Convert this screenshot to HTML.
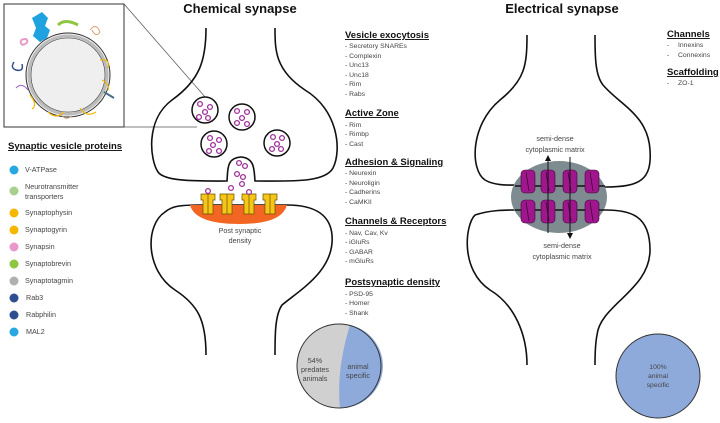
<!DOCTYPE html>
<html><head><meta charset="utf-8"><style>
body{margin:0;background:#fff;}
svg{display:block;font-family:"Liberation Sans",sans-serif;}
.h{font-weight:bold;font-size:9.5px;text-decoration:underline;fill:#111;}
.i{font-size:6.8px;fill:#444;}
.l{font-size:7.2px;fill:#444;}
.o{fill:none;stroke:#111;stroke-width:1.6;}
</style></head><body>
<svg width="720" height="423" viewBox="0 0 720 423">
<text x="240" y="13" text-anchor="middle" font-weight="bold" font-size="13" fill="#111">Chemical synapse</text>
<text x="562" y="13" text-anchor="middle" font-weight="bold" font-size="13" fill="#111">Electrical synapse</text>

<!-- inset box -->
<rect x="4" y="4" width="120" height="123" fill="#fff" stroke="#333" stroke-width="1"/>
<line x1="124" y1="4" x2="206" y2="98" stroke="#555" stroke-width="0.7"/>
<line x1="124" y1="127" x2="197" y2="127" stroke="#555" stroke-width="0.7"/>
<circle cx="68" cy="75" r="42" fill="#f0f0f0" stroke="#333" stroke-width="1"/>
<circle cx="68" cy="75" r="39" fill="none" stroke="#bbb" stroke-width="3"/>
<circle cx="68" cy="75" r="37" fill="#efefef" stroke="#333" stroke-width="0.6"/>
<path d="M32 18 L42 12 L48 18 L45 26 L50 30 L47 38 L40 42 L33 36 L36 28 Z" fill="#1fa3e0"/>
<path d="M58 25 Q65 18 78 25" fill="none" stroke="#8dc63f" stroke-width="3"/>
<path d="M90 30 q6 -8 10 2 q-4 6 -8 -2" fill="none" stroke="#d9a070" stroke-width="1"/>
<path d="M14 62 q-4 6 2 8 q8 2 6 -6" fill="none" stroke="#2e4f8f" stroke-width="1.5"/>
<path d="M22 45 q-4 -6 4 -6 q4 4 -4 6" fill="none" stroke="#e899c8" stroke-width="2"/>
<path d="M100 60 q10 -2 8 8 M102 80 q8 4 6 10" fill="none" stroke="#f5b800" stroke-width="1.2"/>
<path d="M30 95 q8 10 2 14 M48 112 q8 8 16 0 M80 108 q6 10 16 4" fill="none" stroke="#f5b800" stroke-width="1.2"/>
<path d="M60 112 q4 10 12 4" fill="none" stroke="#c9a880" stroke-width="1"/>
<path d="M104 92 l10 6" stroke="#4a6f8a" stroke-width="2"/>
<path d="M16 88 q6 -6 12 2" fill="none" stroke="#a060c0" stroke-width="1"/>

<!-- legend -->
<text x="8" y="149" class="h" font-size="10">Synaptic vesicle proteins</text>
<g class="l">
<circle cx="14" cy="170" r="4.5" fill="#29a8e0"/><text x="25" y="172">V-ATPase</text>
<circle cx="14" cy="191" r="4.5" fill="#a8d08d"/><text x="25" y="189">Neurotransmitter</text><text x="25" y="199">transporters</text>
<circle cx="14" cy="213" r="4.5" fill="#f5b800"/><text x="25" y="215">Synaptophysin</text>
<circle cx="14" cy="230" r="4.5" fill="#f5b800"/><text x="25" y="232">Synaptogyrin</text>
<circle cx="14" cy="247" r="4.5" fill="#e899c8"/><text x="25" y="249">Synapsin</text>
<circle cx="14" cy="264" r="4.5" fill="#8dc63f"/><text x="25" y="266">Synaptobrevin</text>
<circle cx="14" cy="281" r="4.5" fill="#b0b0b0"/><text x="25" y="283">Synaptotagmin</text>
<circle cx="14" cy="298" r="4.5" fill="#2e4f8f"/><text x="26" y="300">Rab3</text>
<circle cx="14" cy="315" r="4.5" fill="#2e4f8f"/><text x="26" y="317">Rabphilin</text>
<circle cx="14" cy="332" r="4.5" fill="#29a8e0"/><text x="26" y="334">MAL2</text>
</g>

<!-- chemical synapse -->
<path class="o" d="M206 28 C206 60 200 80 172 100 C145 120 150 160 158 172 C165 182 200 181 227 181 C228 170 226 158 241 157 C255 158 254 170 255 181 C290 181 325 183 333 168 C342 150 338 110 305 90 C275 70 275 50 275 28"/>
<path class="o" d="M206 355 C206 320 198 305 175 290 C145 270 145 225 165 212 C172 206 180 205 200 205 L287 205 C310 205 330 212 332 235 C335 270 300 290 282 305 C275 315 275 335 275 355"/>
<path d="M190 205 L287 205 Q282 224 240 224 Q195 224 190 205 Z" fill="#f26522"/>
<g fill="#f5c518" stroke="#6b5000" stroke-width="0.7">
<path d="M201 194 h14 v6 h-2 v14 h-10 v-14 h-2 z"/><line x1="208" y1="194" x2="208" y2="214"/>
<path d="M220 194 h14 v6 h-2 v14 h-10 v-14 h-2 z"/><line x1="227" y1="194" x2="227" y2="214"/>
<path d="M242 194 h14 v6 h-2 v14 h-10 v-14 h-2 z"/><line x1="249" y1="194" x2="249" y2="214"/>
<path d="M263 194 h14 v6 h-2 v14 h-10 v-14 h-2 z"/><line x1="270" y1="194" x2="270" y2="214"/>
</g>
<text x="240" y="233" text-anchor="middle" class="l" fill="#666">Post synaptic</text>
<text x="240" y="243" text-anchor="middle" class="l" fill="#666">density</text>
<g fill="#fff" stroke="#111" stroke-width="1.5">
<circle cx="205" cy="110" r="13"/><circle cx="242" cy="117" r="13"/><circle cx="214" cy="144" r="13"/><circle cx="277" cy="143" r="13"/>
</g>
<g fill="none" stroke="#a0309a" stroke-width="1.3">
<circle cx="200" cy="104" r="2.4"/><circle cx="210" cy="107" r="2.4"/><circle cx="205" cy="112" r="2.4"/><circle cx="199" cy="117" r="2.4"/><circle cx="208" cy="118" r="2.4"/>
<circle cx="237" cy="111" r="2.4"/><circle cx="247" cy="112" r="2.4"/><circle cx="242" cy="118" r="2.4"/><circle cx="237" cy="123" r="2.4"/><circle cx="247" cy="124" r="2.4"/>
<circle cx="210" cy="138" r="2.4"/><circle cx="219" cy="140" r="2.4"/><circle cx="213" cy="145" r="2.4"/><circle cx="209" cy="151" r="2.4"/><circle cx="219" cy="151" r="2.4"/>
<circle cx="273" cy="137" r="2.4"/><circle cx="282" cy="138" r="2.4"/><circle cx="277" cy="144" r="2.4"/><circle cx="272" cy="149" r="2.4"/><circle cx="281" cy="149" r="2.4"/>
<circle cx="239" cy="163" r="2.4"/><circle cx="245" cy="166" r="2.4"/><circle cx="237" cy="174" r="2.4"/><circle cx="243" cy="177" r="2.4"/><circle cx="242" cy="184" r="2.4"/><circle cx="231" cy="188" r="2.4"/><circle cx="208" cy="191" r="2.4"/><circle cx="249" cy="192" r="2.4"/>
</g>

<!-- chem text -->
<text x="345" y="38" class="h">Vesicle exocytosis</text>
<g class="i"><text x="345" y="48">- Secretory SNAREs</text><text x="345" y="58">- Complexin</text><text x="345" y="67">- Unc13</text><text x="345" y="77">- Unc18</text><text x="345" y="86">- Rim</text><text x="345" y="96">- Rabs</text></g>
<text x="345" y="116" class="h">Active Zone</text>
<g class="i"><text x="345" y="127">- Rim</text><text x="345" y="136">- Rimbp</text><text x="345" y="146">- Cast</text></g>
<text x="345" y="165" class="h">Adhesion &amp; Signaling</text>
<g class="i"><text x="345" y="175">- Neurexin</text><text x="345" y="185">- Neuroligin</text><text x="345" y="194">- Cadherins</text><text x="345" y="204">- CaMKII</text></g>
<text x="345" y="224" class="h">Channels &amp; Receptors</text>
<g class="i"><text x="345" y="235">- Nav, Cav, Kv</text><text x="345" y="244">- iGluRs</text><text x="345" y="254">- GABAR</text><text x="345" y="263">- mGluRs</text></g>
<text x="345" y="285" class="h">Postsynaptic density</text>
<g class="i"><text x="345" y="296">- PSD-95</text><text x="345" y="305">- Homer</text><text x="345" y="315">- Shank</text></g>

<circle cx="339" cy="366" r="42" fill="#d0d0d0"/>
<path d="M350 325 A42 42 0 0 1 340 408 Q336 370 350 325 Z" fill="#8eaadb"/>
<circle cx="339" cy="366" r="42" fill="none" stroke="#333" stroke-width="1"/>
<g class="l" text-anchor="middle" fill="#333"><text x="315" y="363">54%</text><text x="315" y="372">predates</text><text x="315" y="381">animals</text><text x="358" y="369">animal</text><text x="358" y="378">specific</text></g>

<!-- electrical synapse -->
<path class="o" d="M527 35 C527 65 525 80 500 100 C470 125 470 170 485 180 C495 186 510 185 515 185 M605 187 C640 187 652 180 650 150 C648 115 620 105 603 85 C595 75 595 55 595 35"/>
<path class="o" d="M475 215 C490 210 505 210 515 210 M605 210 C630 210 650 215 650 250 C650 290 600 305 597 335 C595 345 595 355 595 365 M527 365 C527 335 515 305 490 290 C460 270 465 225 475 215"/>
<ellipse cx="559" cy="197" rx="48" ry="36" fill="#7e8c92"/>
<path d="M515 186 L605 186 M515 210 L605 210" stroke="#111" stroke-width="1.6" fill="none"/>
<g fill="#a0168c" stroke="#3a0a35" stroke-width="0.6">
<rect x="521" y="170" width="14" height="23" rx="4"/><rect x="541" y="170" width="14" height="23" rx="4"/><rect x="563" y="170" width="14" height="23" rx="4"/><rect x="585" y="170" width="14" height="23" rx="4"/>
<rect x="521" y="200" width="14" height="23" rx="4"/><rect x="541" y="200" width="14" height="23" rx="4"/><rect x="563" y="200" width="14" height="23" rx="4"/><rect x="585" y="200" width="14" height="23" rx="4"/>
</g>
<g stroke="#3a0a35" stroke-width="0.8"><path d="M526 172 l3 19 M546 172 l3 19 M568 172 l3 19 M590 172 l3 19 M526 202 l3 19 M546 202 l3 19 M568 202 l3 19 M590 202 l3 19"/></g>
<line x1="548" y1="233" x2="548" y2="160" stroke="#111" stroke-width="1"/><path d="M545 161 L548 155 L551 161 Z" fill="#111"/>
<line x1="570" y1="157" x2="570" y2="234" stroke="#111" stroke-width="1"/><path d="M567 233 L570 239 L573 233 Z" fill="#111"/>
<g class="l" text-anchor="middle" fill="#666"><text x="555" y="141">semi-dense</text><text x="555" y="152">cytoplasmic matrix</text><text x="562" y="248">semi-dense</text><text x="562" y="259">cytoplasmic matrix</text></g>
<text x="667" y="37" class="h">Channels</text>
<g class="i"><text x="667" y="47">-</text><text x="678" y="47">Innexins</text><text x="667" y="57">-</text><text x="678" y="57">Connexins</text></g>
<text x="667" y="75" class="h">Scaffolding</text>
<g class="i"><text x="667" y="85">-</text><text x="678" y="85">ZO-1</text></g>
<circle cx="658" cy="376" r="42" fill="#8eaadb" stroke="#333" stroke-width="1"/>
<g class="i" text-anchor="middle" fill="#333"><text x="658" y="369">100%</text><text x="658" y="378">animal</text><text x="658" y="387">specific</text></g>
</svg>
</body></html>
